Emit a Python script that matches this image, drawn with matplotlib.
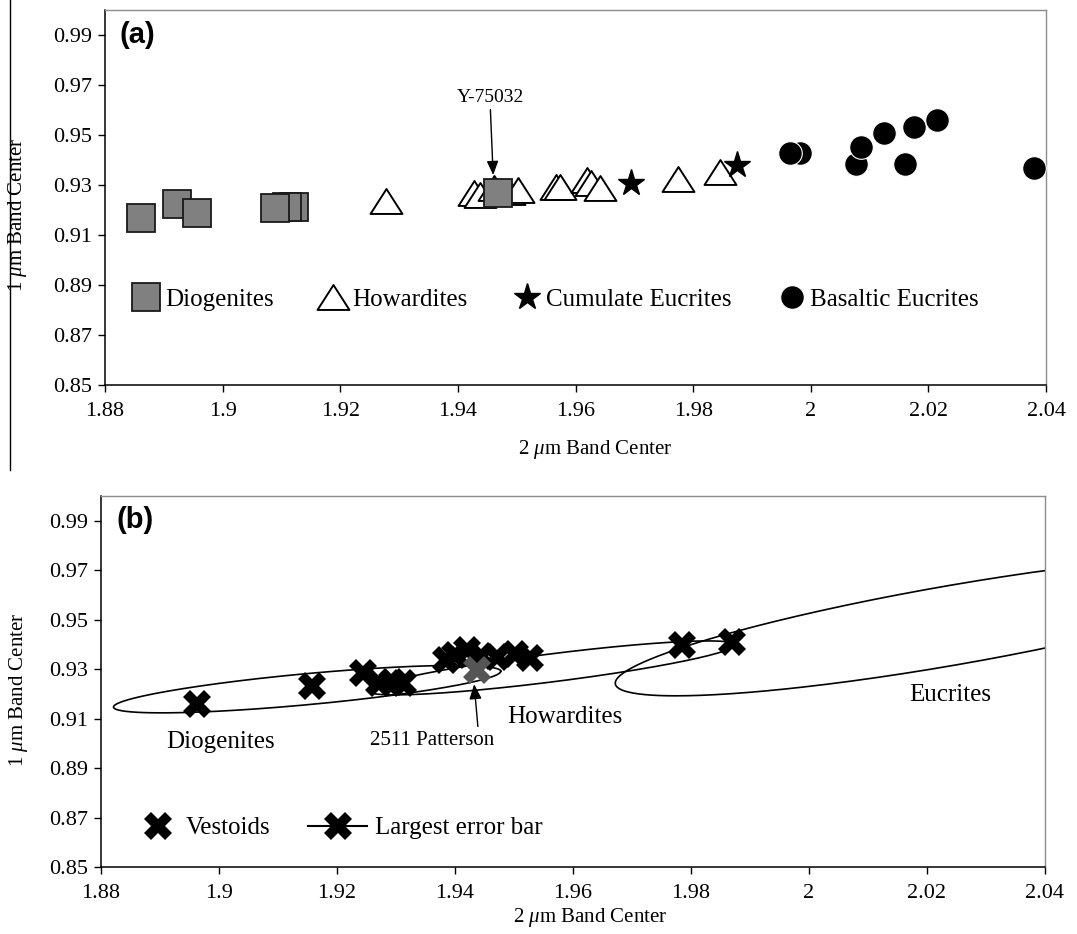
import numpy as np
import matplotlib
matplotlib.use('Agg')
import matplotlib.pyplot as plt
from matplotlib.lines import Line2D
from matplotlib.path import Path

plt.rcParams['font.family'] = ['Liberation Serif', 'DejaVu Serif']
plt.rcParams['mathtext.fontset'] = 'custom'
plt.rcParams['mathtext.rm'] = 'Liberation Serif'
plt.rcParams['mathtext.it'] = 'Liberation Serif:italic'

# panel (a) - meteorite band centers
dio_x = [1.8861, 1.8922, 1.8956, 1.9121, 1.9109, 1.9089, 1.9468]
dio_y = [0.9170, 0.9223, 0.9187, 0.9213, 0.9211, 0.9207, 0.9267]
how_x = [1.9278, 1.9427, 1.9437, 1.9461, 1.9487, 1.9503, 1.9566, 1.9574,
         1.9620, 1.9627, 1.9641, 1.9774, 1.9846]
how_y = [0.9235, 0.9267, 0.9262, 0.9290, 0.9272, 0.9280, 0.9293, 0.9293,
         0.9320, 0.9307, 0.9289, 0.9323, 0.9351]
cum_x = [1.9695, 1.9875]
cum_y = [0.9307, 0.9380]
bas_x = [1.9982, 1.9965, 2.0077, 2.0086, 2.0124, 2.0161, 2.0176, 2.0215, 2.0380]
bas_y = [0.9427, 0.9429, 0.9384, 0.9451, 0.9509, 0.9383, 0.9531, 0.9560, 0.9367]
y75032 = (1.9460, 0.9340)

# panel (b) - vestoids
ves_x = [1.8963, 1.9158, 1.9245, 1.9271, 1.9294, 1.9313, 1.9385, 1.9400,
         1.9421, 1.9445, 1.9472, 1.9503, 1.9528, 1.9785, 1.9870]
ves_y = [0.9159, 0.9231, 0.9283, 0.9242, 0.9249, 0.9242, 0.9337, 0.9357,
         0.9377, 0.9355, 0.9350, 0.9363, 0.9343, 0.9397, 0.9410]
patterson = (1.9438, 0.9296)

# region outlines: center x, center y, half length, slope, half thickness
reg_names = ['Diogenites', 'Howardites', 'Eucrites']
reg_cx = [1.9150, 1.9564, 2.0242]
reg_cy = [0.9219, 0.9305, 0.9477]
reg_a = [0.0328, 0.0311, 0.0570]
reg_slope = [0.22, 0.299, 0.41]
reg_h = [0.0063, 0.0057, 0.0163]
reg_lab_x = [1.9004, 1.9586, 2.0239]
reg_lab_y = [0.9005, 0.9106, 0.9195]

xticks = [1.88, 1.9, 1.92, 1.94, 1.96, 1.98, 2, 2.02, 2.04]
xtick_labels = ['1.88', '1.9', '1.92', '1.94', '1.96', '1.98', '2', '2.02', '2.04']
yticks = [0.85, 0.87, 0.89, 0.91, 0.93, 0.95, 0.97, 0.99]

W, H = 1077, 934
fig = plt.figure(figsize=(W / 100, H / 100), dpi=100)
axa = fig.add_axes([105 / W, 1 - 385 / H, (1046 - 105) / W, 375 / H])
axb = fig.add_axes([100.5 / W, 1 - 867 / H, (1045 - 100.5) / W, 371 / H])

fig.add_artist(Line2D([10 / W, 10 / W], [1, 1 - 470 / H], color='black', lw=1))

# closed triangle, centred on its bounding box
tri = Path([(-1, -0.78), (1, -0.78), (0, 0.78), (-1, -0.78)],
           [Path.MOVETO, Path.LINETO, Path.LINETO, Path.CLOSEPOLY])

for ax in (axa, axb):
    ax.set_xlim(1.88, 2.04)
    ax.set_ylim(0.85, 1.0)
    ax.set_xticks(xticks)
    ax.set_xticklabels(xtick_labels)
    ax.set_yticks(yticks)
    ax.set_yticklabels(['%.2f' % v for v in yticks])
    ax.tick_params(labelsize=16, direction='out', length=5, width=1, pad=4)
    ax.tick_params(axis='x', pad=7)
    for s in ('top', 'right'):
        ax.spines[s].set_color('#8c8c8c')
        ax.spines[s].set_linewidth(1)
    for s in ('left', 'bottom'):
        ax.spines[s].set_linewidth(1.1)
    ax.set_xlabel(r'2 $\mu$m Band Center', fontsize=15, va='center')
    ax.set_ylabel(r'1 $\mu$m Band Center', fontsize=15, va='center')

# ---- panel (a)
axa.plot(how_x, how_y, ls='none', marker=tri, ms=23, mfc='white', mec='black',
         mew=1.4, label='Howardites', zorder=3)
axa.plot(dio_x, dio_y, ls='none', marker='s', ms=20, mfc='#808080', mec='#1a1a1a',
         mew=1.3, label='Diogenites', zorder=4)
axa.plot(cum_x, cum_y, ls='none', marker='*', ms=20, mfc='black', mec='black',
         label='Cumulate Eucrites', zorder=4)
axa.plot(bas_x, bas_y, ls='none', marker='o', ms=17, mfc='black', mec='white',
         mew=0.8, label='Basaltic Eucrites', zorder=4)

axa.annotate('Y-75032', xy=y75032, xytext=(1.9455, 0.9652), fontsize=14,
             ha='center', va='center', zorder=6,
             arrowprops=dict(arrowstyle='-|>,head_length=0.6,head_width=0.25',
                             color='black', lw=1, shrinkA=1, shrinkB=0,
                             relpos=(0.5, 0)))

h, l = axa.get_legend_handles_labels()
order = [1, 0, 2, 3]
axa.legend([h[i] for i in order], [l[i] for i in order], loc='center left',
           bbox_to_anchor=(0.0303, 0.227), ncol=4, frameon=False, fontsize=18,
           handlelength=1.0, handletextpad=0.25, columnspacing=1.9,
           borderpad=0, borderaxespad=0, numpoints=1)

axa.text(0.034, 0.933, '(a)', transform=axa.transAxes, fontsize=21,
         fontweight='bold', family='Liberation Sans', ha='center', va='center')
axa.xaxis.set_label_coords(0.521, -0.173)
axa.yaxis.set_label_coords(-0.0925, 0.453)

# ---- panel (b)
t = np.linspace(0, 2 * np.pi, 400)
for cx, cy, a, k, hh in zip(reg_cx, reg_cy, reg_a, reg_slope, reg_h):
    ex = cx + a * np.cos(t)
    ey = cy + k * a * np.cos(t) + hh * np.sin(t)
    axb.plot(ex, ey, color='black', lw=1.2, zorder=2)
for name, lx, ly in zip(reg_names, reg_lab_x, reg_lab_y):
    axb.text(lx, ly, name, fontsize=18, ha='center', va='center')

axb.plot(ves_x, ves_y, ls='none', marker='X', ms=20, mfc='black', mec='black',
         mew=0, zorder=4)
axb.plot([patterson[0]], [patterson[1]], ls='none', marker='X', ms=20,
         mfc='#555555', mew=0, zorder=5)
axb.annotate('2511 Patterson', xy=(1.9433, 0.9239), xytext=(1.9362, 0.9013),
             fontsize=15, ha='center', va='center', zorder=6,
             arrowprops=dict(arrowstyle='-|>,head_length=0.6,head_width=0.25',
                             color='black', lw=1, shrinkA=1, shrinkB=0,
                             relpos=(0.87, 1)))

ves_h = Line2D([], [], ls='none', marker='X', ms=20, mfc='black', mew=0)
err_h = Line2D([], [], color='black', lw=1.5, marker='X', ms=20, mfc='black', mew=0)
leg1 = axb.legend([ves_h], ['Vestoids'], loc='center left',
                  bbox_to_anchor=(0.045, 0.105), frameon=False, fontsize=18,
                  handlelength=1.2, handletextpad=0.52, borderpad=0,
                  borderaxespad=0, numpoints=1)
axb.add_artist(leg1)
axb.legend([err_h], ['Largest error bar'], loc='center left',
           bbox_to_anchor=(0.2197, 0.105), frameon=False, fontsize=18,
           handlelength=2.36, handletextpad=0.3, borderpad=0,
           borderaxespad=0, numpoints=1)

axb.text(0.0365, 0.935, '(b)', transform=axb.transAxes, fontsize=21,
         fontweight='bold', family='Liberation Sans', ha='center', va='center')
axb.xaxis.set_label_coords(0.518, -0.137)
axb.yaxis.set_label_coords(-0.0873, 0.477)

fig.savefig('out.png', dpi=100)
